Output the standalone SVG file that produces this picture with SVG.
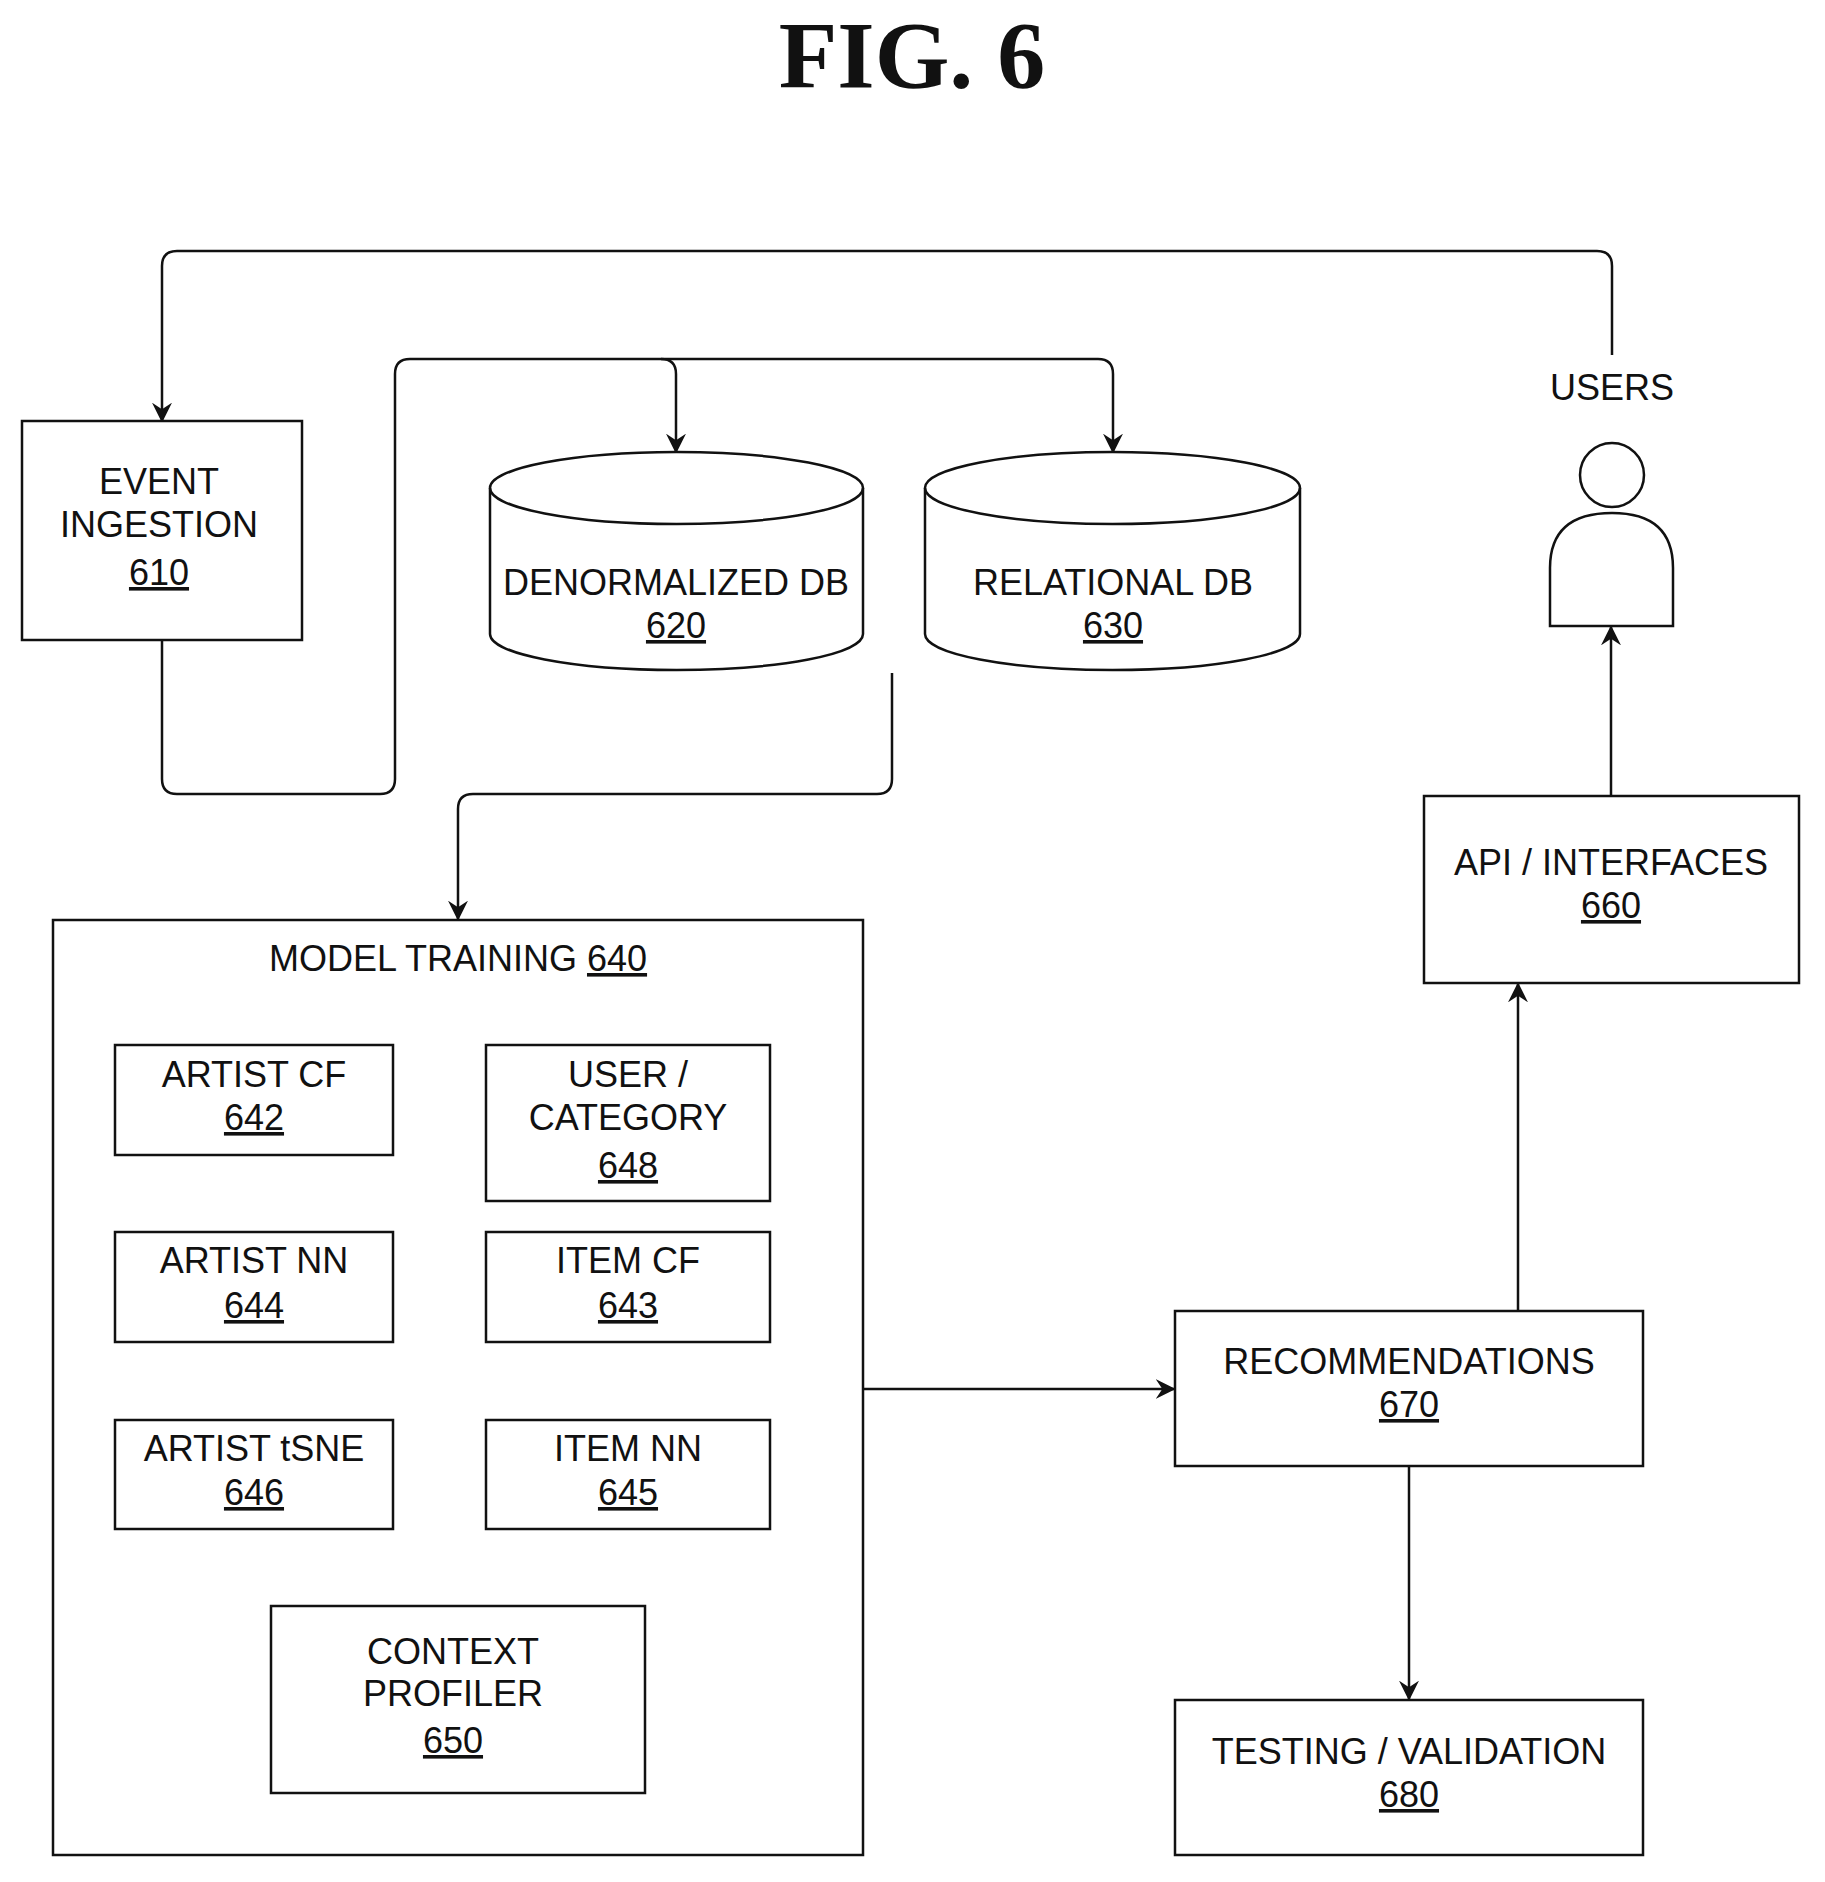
<svg xmlns="http://www.w3.org/2000/svg" width="1825" height="1882" viewBox="0 0 1825 1882">
<style>
text{font-family:"Liberation Sans",Arial,sans-serif;font-size:36px;fill:#111;text-anchor:middle}
.t{font-family:"Liberation Serif","Times New Roman",serif;font-weight:bold;font-size:96px}
.u{text-decoration:underline}
.b{fill:#fff;stroke:#111;stroke-width:2.5}
.c{fill:none;stroke:#111;stroke-width:2.5}
</style>
<defs><marker id="a" viewBox="0 0 12 12" refX="11" refY="6" markerWidth="20" markerHeight="20" markerUnits="userSpaceOnUse" orient="auto"><path d="M0,0 L12,6 L0,12 L4,6 Z" fill="#111"/></marker></defs>
<rect width="1825" height="1882" fill="#fff"/>
<text class="t" x="912" y="88">FIG. 6</text>
<g id="connectors" class="c">
<path d="M1612,355 V266 Q1612,251 1597,251 H177 Q162,251 162,266 V421" marker-end="url(#a)"/>
<path d="M162,640 V779 Q162,794 177,794 H380 Q395,794 395,779 V374 Q395,359 410,359 H1098 Q1113,359 1113,374 V452" marker-end="url(#a)"/>
<path d="M661,359 Q676,359 676,374 V452" marker-end="url(#a)"/>
<path d="M892,673 V779 Q892,794 877,794 H473 Q458,794 458,809 V919" marker-end="url(#a)"/>
<path d="M863,1389 H1174" marker-end="url(#a)"/>
<path d="M1518,1311 V984" marker-end="url(#a)"/>
<path d="M1611,796 V627" marker-end="url(#a)"/>
<path d="M1409,1466 V1699" marker-end="url(#a)"/>
</g>
<g id="n610"><rect class="b" x="22" y="421" width="280" height="219"/><text x="159" y="494">EVENT</text><text x="159" y="537">INGESTION</text><text x="159" y="585" class="u">610</text></g>
<g id="n620"><path class="b" d="M490,488 V634 A186.5,36 0 0 0 863,634 V488 A186.5,36 0 0 0 490,488 Z"/><path class="c" d="M490,488 A186.5,36 0 0 0 863,488"/><text x="676" y="595">DENORMALIZED DB</text><text x="676" y="638" class="u">620</text></g>
<g id="n630"><path class="b" d="M925,488 V634 A187.5,36 0 0 0 1300,634 V488 A187.5,36 0 0 0 925,488 Z"/><path class="c" d="M925,488 A187.5,36 0 0 0 1300,488"/><text x="1113" y="595">RELATIONAL DB</text><text x="1113" y="638" class="u">630</text></g>
<g id="users"><text x="1612" y="400">USERS</text><circle class="b" cx="1612" cy="475" r="32"/><path class="b" d="M1550,626 V568 Q1550,513 1612,513 Q1673,513 1673,568 V626 Z"/></g>
<g id="n640"><rect class="b" x="53" y="920" width="810" height="935"/><text x="458" y="971">MODEL TRAINING <tspan class="u">640</tspan></text></g>
<g id="n642"><rect class="b" x="115" y="1045" width="278" height="110"/><text x="254" y="1087">ARTIST CF</text><text x="254" y="1130" class="u">642</text></g>
<g id="n648"><rect class="b" x="486" y="1045" width="284" height="156"/><text x="628" y="1087">USER /</text><text x="628" y="1130">CATEGORY</text><text x="628" y="1178" class="u">648</text></g>
<g id="n644"><rect class="b" x="115" y="1232" width="278" height="110"/><text x="254" y="1273">ARTIST NN</text><text x="254" y="1318" class="u">644</text></g>
<g id="n643"><rect class="b" x="486" y="1232" width="284" height="110"/><text x="628" y="1273">ITEM CF</text><text x="628" y="1318" class="u">643</text></g>
<g id="n646"><rect class="b" x="115" y="1420" width="278" height="109"/><text x="254" y="1461">ARTIST tSNE</text><text x="254" y="1505" class="u">646</text></g>
<g id="n645"><rect class="b" x="486" y="1420" width="284" height="109"/><text x="628" y="1461">ITEM NN</text><text x="628" y="1505" class="u">645</text></g>
<g id="n650"><rect class="b" x="271" y="1606" width="374" height="187"/><text x="453" y="1664">CONTEXT</text><text x="453" y="1706">PROFILER</text><text x="453" y="1753" class="u">650</text></g>
<g id="n660"><rect class="b" x="1424" y="796" width="375" height="187"/><text x="1611" y="875">API / INTERFACES</text><text x="1611" y="918" class="u">660</text></g>
<g id="n670"><rect class="b" x="1175" y="1311" width="468" height="155"/><text x="1409" y="1374">RECOMMENDATIONS</text><text x="1409" y="1417" class="u">670</text></g>
<g id="n680"><rect class="b" x="1175" y="1700" width="468" height="155"/><text x="1409" y="1764">TESTING / VALIDATION</text><text x="1409" y="1807" class="u">680</text></g>
</svg>
